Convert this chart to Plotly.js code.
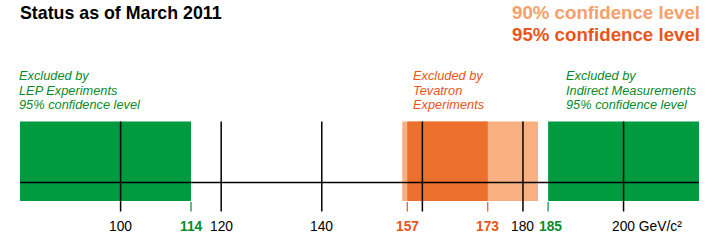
<!DOCTYPE html>
<html><head><meta charset="utf-8">
<script src="https://cdn.plot.ly/plotly-3.0.1.min.js"></script>
<style>html,body{margin:0;padding:0;background:#fff}#c{width:720px;height:242px}</style>
</head><body><div id="c"></div>
<script>
// Excluded regions (GeV/c^2)
var regionNames = ["LEP 95%", "Tevatron 90%", "Tevatron 95%", "Indirect 95%"];
var regionStart = [80, 156, 157, 185];
var regionEnd   = [114, 183, 173, 215];
// Major (black) ticks
var majorTicks = [100, 120, 140, 160, 180, 200];
var majorLabels = ["100", "120", "140", "", "180", "200 GeV/c²"];
// Limit (coloured) ticks
var limitTicks = [114, 157, 173, 185];
var limitLabels = ["114", "157", "173", "185"];

var GREEN = "#009b3e", GREEN_T = "#0b8a2c", ORANGE = "#ec6f2e", LORANGE = "#f8b081", ORANGE_T = "#e8561a", LORANGE_T = "#f6a06a";
var regionColors = [GREEN, LORANGE, ORANGE, GREEN];
var limitColors = [GREEN_T, ORANGE_T, ORANGE_T, GREEN_T];
var FONT = "Liberation Sans, Arial, sans-serif";

var Y_TOP = 121.5, Y_BOT = 201, Y_AXIS = 182.5, Y_TICK = 211.5, Y_LABEL = 226.5;

var shapes = [];
for (var i = 0; i < regionStart.length; i++) {
  shapes.push({type: "rect", xref: "x", yref: "y", x0: regionStart[i], x1: regionEnd[i], y0: Y_TOP, y1: Y_BOT,
    fillcolor: regionColors[i], line: {width: 0}, layer: "below"});
}
shapes.push({type: "line", xref: "x", yref: "y", x0: 80, x1: 215, y0: Y_AXIS, y1: Y_AXIS, line: {color: "#000", width: 1.6}});
majorTicks.forEach(function (v) {
  shapes.push({type: "line", xref: "x", yref: "y", x0: v, x1: v, y0: Y_TOP, y1: Y_TICK, line: {color: "#000", width: 1.5}});
});
limitTicks.forEach(function (v, i) {
  shapes.push({type: "line", xref: "x", yref: "y", x0: v, x1: v, y0: Y_BOT + 1, y1: Y_TICK, line: {color: limitColors[i], width: 1.2}});
});

var ann = [];
majorTicks.forEach(function (v, i) {
  if (!majorLabels[i]) return;
  var last = majorLabels[i].indexOf("GeV") >= 0;
  ann.push({xref: "x", yref: "y", x: v, y: Y_LABEL, text: majorLabels[i], showarrow: false,
    xanchor: last ? "left" : "center", xshift: last ? -14 : 0, yanchor: "middle",
    font: {family: FONT, size: 13.8, color: "#000"}});
});
limitTicks.forEach(function (v, i) {
  ann.push({xref: "x", yref: "y", x: v, y: Y_LABEL, text: "<b>" + limitLabels[i] + "</b>", showarrow: false,
    xanchor: "center", xshift: (v === 185 ? 2 : 0), yanchor: "middle", font: {family: FONT, size: 13.8, color: limitColors[i]}});
});
// Title and legend
ann.push({xref: "paper", yref: "y", x: 0, y: 12.5, xshift: -2, text: "<b>Status as of March 2011</b>", showarrow: false,
  xanchor: "left", yanchor: "middle", font: {family: FONT, size: 17.8, color: "#000"}});
ann.push({xref: "paper", yref: "y", x: 1, y: 12, xshift: 3, text: "<b>90% confidence level</b>", showarrow: false,
  xanchor: "right", yanchor: "middle", font: {family: FONT, size: 18.7, color: LORANGE_T}});
ann.push({xref: "paper", yref: "y", x: 1, y: 34, xshift: 3, text: "<b>95% confidence level</b>", showarrow: false,
  xanchor: "right", yanchor: "middle", font: {family: FONT, size: 18.7, color: ORANGE_T}});
// Region descriptions
var blocks = [
  {x: 80, color: GREEN_T, lines: ["Excluded by", "LEP Experiments", "95% confidence level"]},
  {x: 158.3, color: ORANGE_T, lines: ["Excluded by", "Tevatron", "Experiments"]},
  {x: 188.7, color: GREEN_T, lines: ["Excluded by", "Indirect Measurements", "95% confidence level"]}
];
var lineY = [75.5, 90, 104.5];
blocks.forEach(function (b) {
  b.lines.forEach(function (t, j) {
    ann.push({xref: "x", yref: "y", x: b.x, y: lineY[j], xshift: -3, text: "<i>" + t + "</i>", showarrow: false,
      xanchor: "left", yanchor: "middle", font: {family: FONT, size: 12.8, color: b.color}});
  });
});

var layout = {
  width: 720, height: 242,
  margin: {l: 20, r: 21, t: 0, b: 0, pad: 0},
  paper_bgcolor: "#fff", plot_bgcolor: "#fff",
  xaxis: {range: [80, 215], visible: false, fixedrange: true},
  yaxis: {range: [242, 0], visible: false, fixedrange: true},
  showlegend: false,
  shapes: shapes,
  annotations: ann
};
Plotly.newPlot("c", [{x: [], y: [], type: "scatter", hoverinfo: "skip"}], layout, {staticPlot: true, displayModeBar: false});
</script></body></html>
